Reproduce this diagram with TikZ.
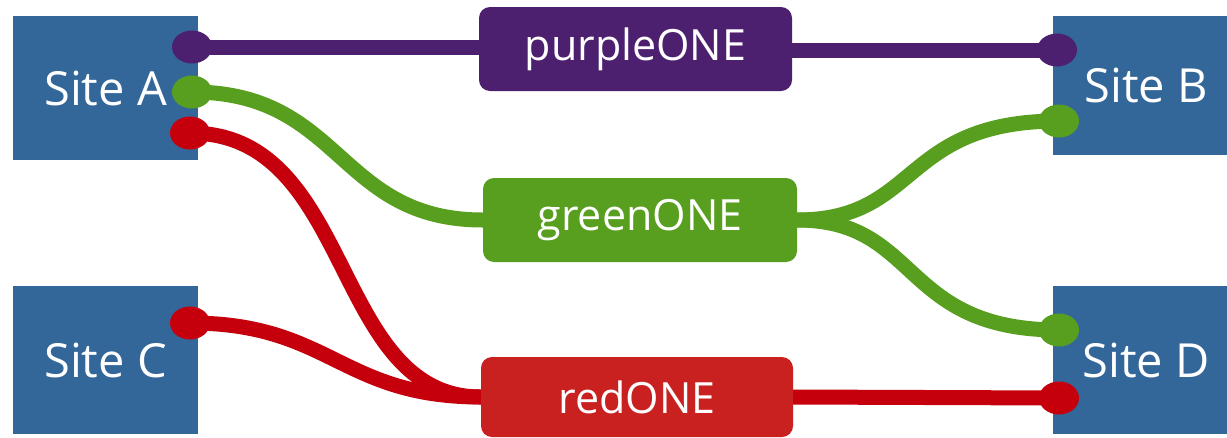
\documentclass[tikz,border=0pt]{standalone}
\usepackage{fontspec}
\setmainfont{Open Sans}
\usetikzlibrary{shapes.geometric}
\definecolor{siteblue}{RGB}{52,103,153}
\definecolor{netpurple}{RGB}{76,31,111}
\definecolor{netgreen}{RGB}{88,158,31}
\definecolor{netred}{RGB}{197,0,12}
\definecolor{boxred}{RGB}{201,33,31}
\pgfdeclarelayer{bg}
\pgfdeclarelayer{wires}
\pgfsetlayers{bg,wires,main}
\tikzset{
  site/.style={fill=siteblue, draw=none, minimum width=185pt, text=white,
    font=\fontsize{47}{52}\selectfont, inner sep=0pt},
  service/.style={rounded corners=11pt, draw=none, minimum width=313pt,
    minimum height=84pt, text=white, font=\fontsize{43}{48}\selectfont, inner sep=0pt},
  port/.style={ellipse, draw=none, minimum width=40pt, minimum height=33pt, inner sep=0pt},
  wire/.style={line width=15pt},
}
\begin{document}
\begin{tikzpicture}[x=1pt,y=-1pt]
\useasboundingbox (0,0) rectangle (1227,437);

% sites
\begin{pgfonlayer}{bg}
\fill[white] (0,0) rectangle (1227,437);
\node[site, minimum height=144pt] (A) at (105.5,88) {Site A};
\node[site, minimum height=148pt] (C) at (105.5,360) {Site C};
\node[site, minimum height=139pt, minimum width=186pt] (B) at (1146,85.5) {Site B};
\node[site, minimum height=148pt, minimum width=186pt] (D) at (1146,360) {Site D};
\end{pgfonlayer}

% services
\node[service, fill=netpurple] (P) at (635.5,49) {purpleONE};
\node[service, fill=netgreen, minimum width=314pt] (G) at (640,220) {greenONE};
\node[service, fill=boxred, minimum height=80pt, minimum width=312pt] (R) at (637,397) {redONE};

% ports
\node[port, fill=netpurple] (Ap) at (192,47) {};
\node[port, fill=netgreen] (Ag) at (192,92) {};
\node[port, fill=netred] (Ar) at (190,133) {};
\node[port, fill=netred] (Cr) at (190,323) {};
\node[port, fill=netpurple] (Bp) at (1057,50) {};
\node[port, fill=netgreen] (Bg) at (1059,121) {};
\node[port, fill=netgreen] (Dg) at (1059,330) {};
\node[port, fill=netred] (Dr) at (1059,398) {};

% wires
\begin{pgfonlayer}{wires}
\draw[wire, netpurple] (Ap.center) -- (Ap.center -| P.west);
\draw[wire, netpurple] (P.east |- Bp.center) -- (Bp.center);
\draw[wire, netgreen] (Ag.center) .. controls +(150,0) and +(-145,0) .. (G.west);
\draw[wire, netgreen] (G.east) .. controls +(123,0) and +(-159,0) .. (Bg.center);
\draw[wire, netgreen] (G.east) .. controls +(123,0) and +(-159,0) .. (Dg.center);
\draw[wire, netred] (Ar.center) .. controls +(165,0) and +(-150,0) .. (R.west);
\draw[wire, netred] (Cr.center) .. controls +(140,0) and +(-140,0) .. (R.west);
\draw[wire, netred] (R.east) -- (Dr.center);
\end{pgfonlayer}
\end{tikzpicture}
\end{document}
